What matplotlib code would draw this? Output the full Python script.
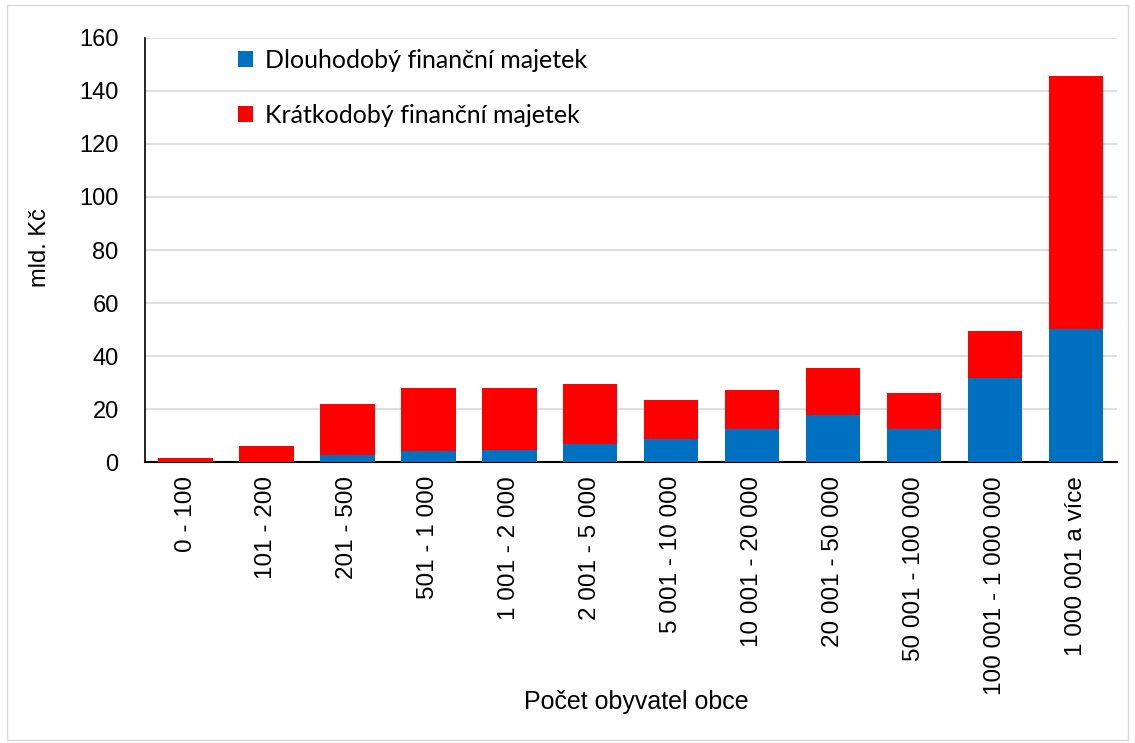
import numpy as np
import matplotlib
matplotlib.use('Agg')
from matplotlib import pyplot as plt
from matplotlib.patches import Rectangle

categories = ['0 - 100', '101 - 200', '201 - 500', '501 - 1 000', '1 001 - 2 000',
              '2 001 - 5 000', '5 001 - 10 000', '10 001 - 20 000', '20 001 - 50 000',
              '50 001 - 100 000', '100 001 - 1 000 000', '1 000 001 a více']
# dlouhodoby (blue) and celkem (total) in mld. Kc
dlouhodoby = [0.1, 0.2, 2.6, 4.3, 4.5, 7.0, 8.8, 12.4, 17.6, 12.6, 31.9, 50.4]
celkem = [1.7, 6.0, 22.0, 28.0, 27.8, 29.4, 23.3, 27.3, 35.5, 26.1, 49.5, 145.8]
kratkodoby = [c - d for c, d in zip(celkem, dlouhodoby)]
yticks = [0, 20, 40, 60, 80, 100, 120, 140, 160]

blue = '#0070C0'
red = '#FF0000'

fig = plt.figure(figsize=(11.35, 7.43), dpi=100)
ax = fig.add_axes([0.1278, 0.378, 0.856, 0.571])

x = np.arange(len(categories))
ax.bar(x, dlouhodoby, 0.67, color=blue, label='Dlouhodobý finanční majetek', zorder=3)
ax.bar(x, kratkodoby, 0.67, bottom=dlouhodoby, color=red,
       label='Krátkodobý finanční majetek', zorder=3)

ax.set_xlim(-0.5, len(categories) - 0.5)
ax.set_ylim(0, 160)
ax.set_yticks(yticks)
ax.set_yticklabels([str(v) for v in yticks], fontsize=17, family='Liberation Sans')
ax.set_xticks(x)
ax.set_xticklabels(categories, rotation=90, fontsize=17.5, family='Liberation Sans')
ax.tick_params(axis='y', length=0, pad=19)
ax.tick_params(axis='x', length=0, pad=10)
ax.yaxis.grid(True, color='#d9d9d9', linewidth=1.2, zorder=0)
ax.set_axisbelow(True)
for s in ['top', 'right']:
    ax.spines[s].set_visible(False)
ax.spines['left'].set_linewidth(1.2)
ax.spines['bottom'].set_linewidth(1.5)

fig.text(40 / 1135, 1 - 248 / 743, 'mld. Kč', fontsize=17, family='Liberation Sans',
         rotation=90, ha='center', va='center')
fig.text(0.561, 1 - 702 / 743, 'Počet obyvatel obce', fontsize=18, family='Liberation Sans',
         ha='center', va='center')

leg = ax.legend(loc='upper left', bbox_to_anchor=(0.073, 1.028), frameon=False,
                prop={'family': 'Lato', 'size': 18}, handlelength=0.6, handleheight=0.6,
                handletextpad=0.45, labelspacing=1.3)

fig.patches.append(Rectangle((7 / 1135, 3 / 743), 1121 / 1135, 735 / 743,
                             transform=fig.transFigure, fill=False,
                             edgecolor='#d9d9d9', linewidth=1))

fig.savefig('out.png', dpi=100)
